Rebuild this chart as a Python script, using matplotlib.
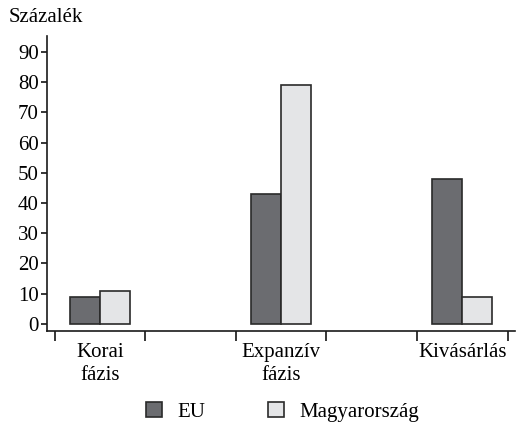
import numpy as np
import matplotlib
matplotlib.use('Agg')
import matplotlib.pyplot as plt
from matplotlib.patches import Patch

# adatok
categories = ['Korai\nfázis', 'Expanzív\nfázis', 'Kivásárlás']
series_names = ['EU', 'Magyarország']
eu_values = [9, 43, 48]
hu_values = [11, 79, 9]
y_ticks = [0, 10, 20, 30, 40, 50, 60, 70, 80, 90]

plt.rcParams['font.family'] = ['Liberation Serif', 'DejaVu Serif']
plt.rcParams['font.size'] = 15

eu_color = '#6b6c70'
hu_color = '#e4e5e7'
edge = '#2a2a2a'

fig = plt.figure(figsize=(5.17, 4.28), dpi=100)
ax = fig.add_axes([0.0909, 0.2273, 0.905, 0.6886])

x = np.arange(len(categories))
w = 0.165
ax.bar(x - w / 2, eu_values, w, color=eu_color, edgecolor=edge, linewidth=1.2)
ax.bar(x + w / 2, hu_values, w, color=hu_color, edgecolor=edge, linewidth=1.2)

ax.set_xlim(-0.292, 2.29)
ax.set_ylim(-2.3, 95.3)
ax.set_yticks(y_ticks)
ax.tick_params(axis='y', direction='out', length=4, width=1.1, pad=2, labelsize=15)

# kategoria hatarok mint tickek, cimkek kozepen
bounds = []
for c in x:
    bounds += [c - 0.25, c + 0.25]
ax.set_xticks(bounds)
ax.set_xticklabels([''] * len(bounds))
ax.tick_params(axis='x', direction='out', length=7, width=1.1)
ax.set_xticks(x, minor=True)
ax.set_xticklabels(categories, minor=True, fontsize=15, linespacing=1.25)
ax.tick_params(axis='x', which='minor', length=0, pad=9)

for s in ['top', 'right']:
    ax.spines[s].set_visible(False)
for s in ['left', 'bottom']:
    ax.spines[s].set_linewidth(1.2)
    ax.spines[s].set_color('#1a1a1a')

fig.text(0.017, 0.96, 'Százalék', fontsize=15, va='center', ha='left')

handles = [Patch(facecolor=eu_color, edgecolor=edge, linewidth=1.2),
           Patch(facecolor=hu_color, edgecolor=edge, linewidth=1.2)]
fig.legend(handles, series_names, loc='center', bbox_to_anchor=(0.547, 0.037),
           ncol=2, frameon=False, handlelength=0.75, handleheight=0.75,
           handletextpad=0.75, columnspacing=3.0, fontsize=15)

fig.savefig('out.png', dpi=100)
